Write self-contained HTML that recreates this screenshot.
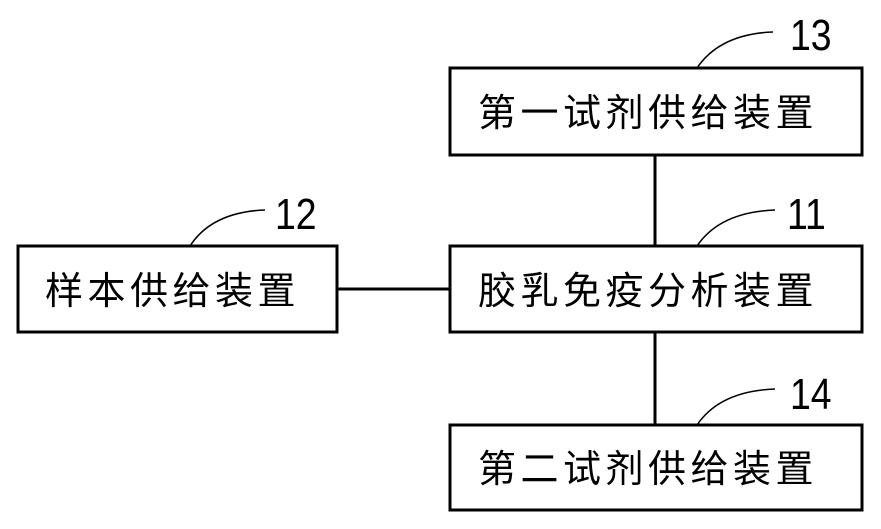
<!DOCTYPE html>
<html><head><meta charset="utf-8"><style>
body{margin:0;background:#fff;width:881px;height:524px;overflow:hidden}
svg text{font-family:"Liberation Sans","Noto Sans CJK SC",sans-serif;fill:#000}
</style></head><body>
<svg width="881" height="524" viewBox="0 0 881 524">
<g fill="none" stroke="#000" stroke-width="3">
<rect x="450" y="68" width="412" height="87"/>
<rect x="18" y="246" width="319" height="86"/>
<rect x="450" y="246" width="412" height="86"/>
<rect x="450" y="425" width="412" height="85"/>
<line x1="655" y1="155" x2="655" y2="246"/>
<line x1="655" y1="332" x2="655" y2="425"/>
<line x1="337" y1="289" x2="450" y2="289"/>
</g>
<g fill="none" stroke="#000" stroke-width="1.5">
<path d="M697 68 Q720 34 773 32"/>
<path d="M190 246 Q212 212 265 210"/>
<path d="M697 246 Q720 212 775 210"/>
<path d="M697 425 Q720 391 775 389"/>
</g>
<g font-size="38" letter-spacing="4.5">
<text x="478" y="126">第一试剂供给装置</text>
<text x="45" y="304">样本供给装置</text>
<text x="478" y="304">胶乳免疫分析装置</text>
<text x="478" y="482">第二试剂供给装置</text>
</g>
<g font-size="44">
<text x="790" y="50" transform="translate(790 0) scale(0.85 1) translate(-790 0)">13</text>
<text x="275" y="229" transform="translate(275 0) scale(0.85 1) translate(-275 0)">12</text>
<text x="787" y="229" transform="translate(787 0) scale(0.85 1) translate(-787 0)">11</text>
<text x="790" y="409" transform="translate(790 0) scale(0.85 1) translate(-790 0)">14</text>
</g>
</svg>
</body></html>
